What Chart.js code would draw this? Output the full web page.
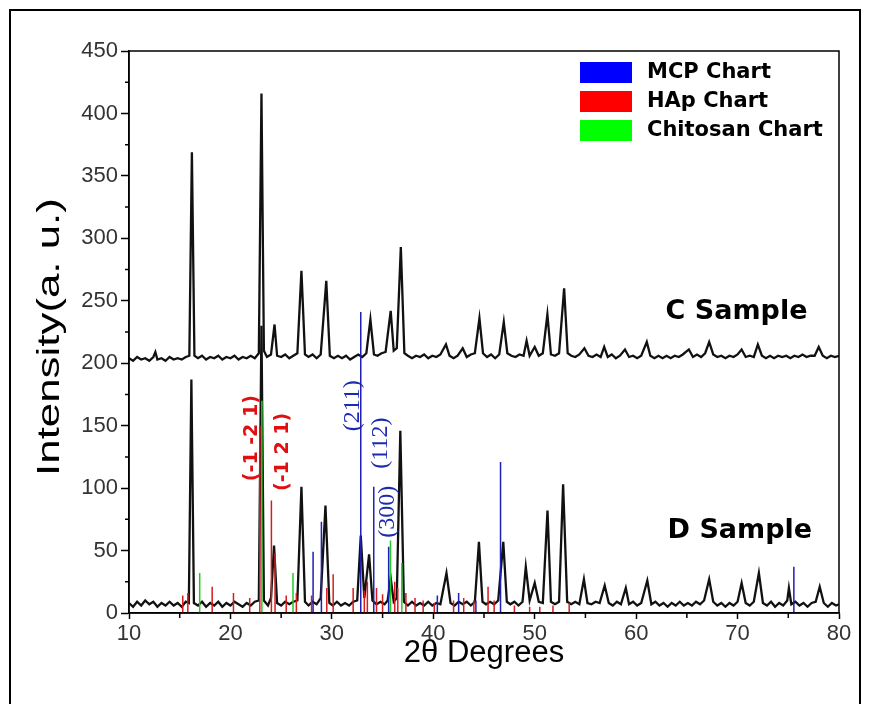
<!DOCTYPE html>
<html>
<head>
<meta charset="utf-8">
<script src="https://cdn.jsdelivr.net/npm/chart.js@4.4.1/dist/chart.umd.min.js"></script>
<style>
  body { margin: 0; background: #fff; }
  #wrap { position: relative; width: 870px; height: 704px; overflow: hidden; }
  #frame { position: absolute; left: 9px; top: 9px; width: 852px; height: 720px; border: 2px solid #000; box-sizing: border-box; }
  #c { position: absolute; left: 0; top: 0; }
</style>
</head>
<body>
<div id="wrap">
  <div id="frame"></div>
  <canvas id="c" width="870" height="704"></canvas>
</div>
<script>
// XRD patterns, [2theta, intensity]
const cSample = [
  [10.0,204],[10.4,202],[10.8,205],[11.2,203],[11.6,204],[12.0,202],[12.4,205],[12.6,209],[12.8,203],[13.2,204],
  [13.6,202],[14.0,205],[14.4,203],[14.8,204],[15.2,203],[15.6,205],[15.95,206],[16.2,369],[16.45,206],[16.8,204],
  [17.2,206],[17.6,203],[18.0,205],[18.4,204],[18.8,206],[19.2,203],[19.6,205],[20.0,204],[20.4,206],[20.8,203],
  [21.2,205],[21.6,204],[22.0,206],[22.4,204],[22.8,208],[23.06,416],[23.3,210],[23.6,205],[24.0,207],[24.35,231],
  [24.6,206],[25.0,205],[25.4,207],[25.8,204],[26.2,206],[26.6,208],[27.0,274],[27.35,207],[27.7,205],[28.1,207],
  [28.5,204],[28.9,207],[29.45,266],[29.8,206],[30.2,204],[30.6,206],[31.0,204],[31.4,206],[31.8,203],[32.2,205],
  [32.6,207],[33.0,205],[33.4,208],[33.8,235],[34.15,207],[34.5,206],[34.9,208],[35.3,209],[35.8,242],[36.1,210],
  [36.4,212],[36.8,293],[37.15,208],[37.5,206],[37.9,204],[38.3,206],[38.7,205],[39.1,207],[39.5,204],[39.9,206],
  [40.3,205],[40.7,207],[41.25,215],[41.6,206],[42.0,204],[42.4,206],[42.9,212],[43.3,205],[43.7,207],[44.1,208],
  [44.55,236],[44.9,208],[45.3,205],[45.7,207],[46.1,204],[46.5,207],[46.95,233],[47.3,208],[47.7,206],[48.1,205],
  [48.5,207],[48.9,206],[49.2,218],[49.5,206],[50.0,213],[50.4,206],[50.8,208],[51.25,239],[51.6,207],[52.0,206],
  [52.4,208],[52.9,260],[53.25,208],[53.6,206],[54.0,205],[54.4,207],[54.9,212],[55.3,206],[55.7,205],[56.1,207],
  [56.5,205],[56.85,213],[57.2,205],[57.6,207],[58.0,204],[58.4,206],[58.9,211],[59.3,205],[59.7,206],[60.1,204],
  [60.5,206],[61.05,217],[61.4,206],[61.8,204],[62.2,206],[62.6,204],[63.0,206],[63.4,204],[63.8,206],[64.2,205],
  [64.6,207],[65.2,211],[65.6,205],[66.0,207],[66.4,205],[66.8,208],[67.2,217],[67.6,207],[68.0,205],[68.4,206],
  [68.8,204],[69.2,206],[69.6,205],[70.0,207],[70.4,211],[70.8,205],[71.2,206],[71.6,205],[72.0,215],[72.4,206],
  [72.8,204],[73.2,206],[73.6,204],[74.0,206],[74.4,205],[74.8,206],[75.2,204],[75.6,206],[76.0,205],[76.4,207],
  [76.8,205],[77.2,206],[77.6,206],[78.0,213],[78.4,206],[78.8,204],[79.2,206],[79.6,205],[80.0,206]
];

const dSample = [
  [10.0,8],[10.4,5],[10.8,9],[11.2,6],[11.6,10],[12.0,7],[12.4,9],[12.8,5],[13.2,8],[13.6,6],
  [14.0,9],[14.4,6],[14.8,8],[15.2,5],[15.6,9],[15.9,8],[16.15,187],[16.4,8],[16.8,6],[17.2,9],
  [17.6,5],[18.0,8],[18.4,6],[18.8,9],[19.2,5],[19.6,8],[20.0,6],[20.4,9],[20.8,7],[21.2,5],
  [21.6,8],[22.0,6],[22.4,9],[22.8,10],[23.06,230],[23.3,10],[23.7,6],[24.0,12],[24.3,54],[24.6,8],
  [25.0,6],[25.4,9],[25.8,7],[26.2,9],[26.6,10],[27.0,101],[27.35,9],[27.7,6],[28.1,9],[28.5,7],
  [28.9,12],[29.37,86],[29.75,8],[30.1,6],[30.5,9],[30.9,6],[31.3,8],[31.7,6],[32.1,9],[32.5,10],
  [32.85,62],[33.2,12],[33.67,47],[34.0,10],[34.4,7],[34.8,9],[35.2,7],[35.5,10],[35.8,28],[36.1,9],
  [36.4,12],[36.75,146],[37.1,9],[37.5,6],[37.9,9],[38.3,6],[38.7,8],[39.1,6],[39.5,9],[39.9,6],
  [40.3,8],[40.7,7],[41.3,32],[41.7,8],[42.1,6],[42.5,9],[42.9,7],[43.3,9],[43.7,6],[44.1,9],
  [44.5,57],[44.85,9],[45.2,7],[45.6,9],[46.0,7],[46.4,10],[46.9,57],[47.25,9],[47.6,7],[48.0,9],
  [48.4,6],[48.8,9],[49.12,37],[49.5,10],[50.0,24],[50.4,9],[50.8,8],[51.26,82],[51.6,9],[52.0,7],
  [52.4,9],[52.8,103],[53.2,9],[53.6,7],[54.0,9],[54.4,7],[54.85,27],[55.2,8],[55.6,7],[56.0,9],
  [56.4,8],[56.9,22],[57.3,8],[57.7,6],[58.1,9],[58.5,7],[58.98,20],[59.3,7],[59.7,9],[60.1,6],
  [60.5,8],[61.1,26],[61.5,7],[61.9,9],[62.3,6],[62.7,8],[63.1,5],[63.5,8],[63.9,6],[64.3,9],
  [64.7,6],[65.1,8],[65.5,6],[65.9,9],[66.3,7],[66.7,10],[67.2,27],[67.6,9],[68.0,6],[68.4,8],
  [68.8,5],[69.2,8],[69.6,6],[70.0,9],[70.4,24],[70.8,8],[71.2,6],[71.6,9],[72.1,32],[72.5,8],
  [72.9,6],[73.3,9],[73.7,5],[74.1,8],[74.5,6],[74.9,10],[75.06,20],[75.3,7],[75.7,9],[76.1,6],
  [76.5,8],[76.9,5],[77.3,8],[77.7,9],[78.1,21],[78.5,8],[78.9,5],[79.3,8],[79.7,6],[80.0,7]
];

// reference patterns, [2theta, height]
const mcpSticks = [
  [28.15,49],[28.97,73],[32.85,241],[34.13,101],[35.6,53],[40.4,14],[42.5,16],[44.2,10],[46.63,121],[75.55,37]
];
const hapSticks = [
  [15.3,14],[15.8,16],[18.2,21],[20.3,16],[21.9,12],[22.9,150],[24.04,90],[24.4,48],[25.5,14],[26.5,16],
  [28.0,14],[29.5,20],[30.13,31],[32.1,20],[33.2,18],[33.5,25],[34.4,20],[35.0,15],[36.2,25],[36.5,20],
  [37.3,16],[38.2,12],[39.0,10],[40.1,8],[42.0,10],[43.0,12],[44.0,10],[45.4,21],[46.0,10],[48.0,6],
  [49.5,5],[50.5,5],[51.8,6],[53.4,8]
];
const chitosanSticks = [
  [16.97,32],[23.1,170],[26.17,32],[35.78,58],[36.9,40]
];

const legendNames = ['MCP Chart', 'HAp Chart', 'Chitosan Chart'];
const legendColors = ['#0000ff', '#ff0000', '#00ff00'];

// peak indices, [text, 2theta, intensity, colour, serif?]
const peakLabels = [
  ['(-1 -2 1)', 22.1, 140, '#e01010', false],
  ['(-1 2 1)', 25.16, 129, '#e01010', false],
  ['(211)', 32.06, 166, '#1c2ab0', true],
  ['(112)', 34.82, 136, '#1c2ab0', true],
  ['(300)', 35.51, 81, '#1c2ab0', true]
];
const sampleLabels = [
  ['C Sample', 62.9, 241],
  ['D Sample', 63.1, 66]
];

const yTicks = [0, 50, 100, 150, 200, 250, 300, 350, 400, 450];
const xTicks = [10, 20, 30, 40, 50, 60, 70, 80];
const yTitle = 'Intensity(a. u.)';

const toPoints = (arr) => arr.map(([x, y]) => ({ x, y }));
const toSticks = (arr) => {
  const pts = [];
  arr.forEach(([x, h]) => pts.push({ x, y: 0 }, { x, y: h }, { x, y: null }));
  return pts;
};

const stick = (data, color) => ({
  data: toSticks(data),
  borderColor: color,
  borderWidth: 1.5,
  pointRadius: 0,
  spanGaps: false,
});

const extras = {
  id: 'extras',
  afterDraw(chart) {
    const { ctx, chartArea: a, scales: { x, y } } = chart;
    ctx.save();
    ctx.strokeStyle = '#000';
    ctx.lineWidth = 1.5;
    ctx.strokeRect(a.left, a.top, a.right - a.left, a.bottom - a.top);
    // minor ticks
    ctx.beginPath();
    for (let i = 0; i < xTicks.length - 1; i++) {
      const px = x.getPixelForValue((xTicks[i] + xTicks[i + 1]) / 2);
      ctx.moveTo(px, a.bottom); ctx.lineTo(px, a.bottom + 5);
    }
    for (let i = 0; i < yTicks.length - 1; i++) {
      const py = y.getPixelForValue((yTicks[i] + yTicks[i + 1]) / 2);
      ctx.moveTo(a.left - 4, py); ctx.lineTo(a.left, py);
    }
    ctx.stroke();

    // y title, stretched along its length like the original
    ctx.save();
    ctx.translate(50, (a.top + a.bottom) / 2 + 5);
    ctx.rotate(-Math.PI / 2);
    ctx.scale(1.37, 1);
    ctx.fillStyle = '#000';
    ctx.font = '32px "Liberation Sans", Arial, sans-serif';
    ctx.textAlign = 'center';
    ctx.textBaseline = 'middle';
    ctx.fillText(yTitle, 0, 0);
    ctx.restore();

    // peak labels, rotated
    peakLabels.forEach(([t, vx, vy, col, serif]) => {
      ctx.save();
      ctx.translate(x.getPixelForValue(vx), y.getPixelForValue(vy));
      ctx.rotate(-Math.PI / 2);
      ctx.fillStyle = col;
      ctx.font = serif ? '24px "Liberation Serif"' : 'bold 19px "DejaVu Sans"';
      ctx.textAlign = 'center';
      ctx.textBaseline = 'middle';
      ctx.fillText(t, 0, 0);
      ctx.restore();
    });

    // sample names
    ctx.fillStyle = '#000';
    ctx.font = 'bold 27px "DejaVu Sans"';
    ctx.textAlign = 'left';
    ctx.textBaseline = 'middle';
    sampleLabels.forEach(([t, vx, vy]) => {
      ctx.fillText(t, x.getPixelForValue(vx), y.getPixelForValue(vy));
    });

    // legend
    ctx.font = 'bold 21px "DejaVu Sans"';
    const lx = a.right - 259, ly = a.top + 11;
    legendNames.forEach((name, i) => {
      ctx.fillStyle = legendColors[i];
      ctx.fillRect(lx, ly + i * 29, 52, 21);
      ctx.fillStyle = '#000';
      ctx.fillText(name, lx + 67, ly + i * 29 + 11);
    });
    ctx.restore();
  }
};

const tickFont = { family: '"Liberation Sans", Arial, sans-serif', size: 22 };

new Chart(document.getElementById('c'), {
  type: 'line',
  data: {
    datasets: [
      stick(mcpSticks, '#1f1fb4'),
      stick(chitosanSticks, '#22cc22'),
      stick(hapSticks, '#d81c1c'),
      { data: toPoints(cSample), borderColor: '#111', borderWidth: 2.3, pointRadius: 0, tension: 0 },
      { data: toPoints(dSample), borderColor: '#111', borderWidth: 2.3, pointRadius: 0, tension: 0 },
    ]
  },
  options: {
    responsive: false,
    devicePixelRatio: 1,
    animation: false,
    layout: { padding: { top: 51, right: 31, left: 0, bottom: 0 } },
    plugins: { legend: { display: false }, tooltip: { enabled: false } },
    scales: {
      x: {
        type: 'linear',
        min: 10, max: 80,
        afterFit: (s) => { s.height = 91; },
        afterBuildTicks: (s) => { s.ticks = xTicks.map(v => ({ value: v })); },
        ticks: { font: tickFont, color: '#333', padding: 2, maxRotation: 0 },
        grid: { drawOnChartArea: false, tickLength: 6, tickColor: '#000', tickWidth: 1.5 },
        border: { color: '#000', width: 1.5 },
        title: { display: true, text: '2θ Degrees', color: '#000',
          font: { family: '"Liberation Sans", Arial, sans-serif', size: 31 }, padding: { bottom: 32 } }
      },
      y: {
        min: 0, max: 450,
        afterFit: (s) => { s.width = 129; },
        afterBuildTicks: (s) => { s.ticks = yTicks.map(v => ({ value: v })); },
        ticks: { font: tickFont, color: '#333', padding: 3 },
        grid: { drawOnChartArea: false, tickLength: 8, tickColor: '#000', tickWidth: 1.5 },
        border: { color: '#000', width: 1.5 }
      }
    }
  },
  plugins: [extras]
});
</script>
</body>
</html>
